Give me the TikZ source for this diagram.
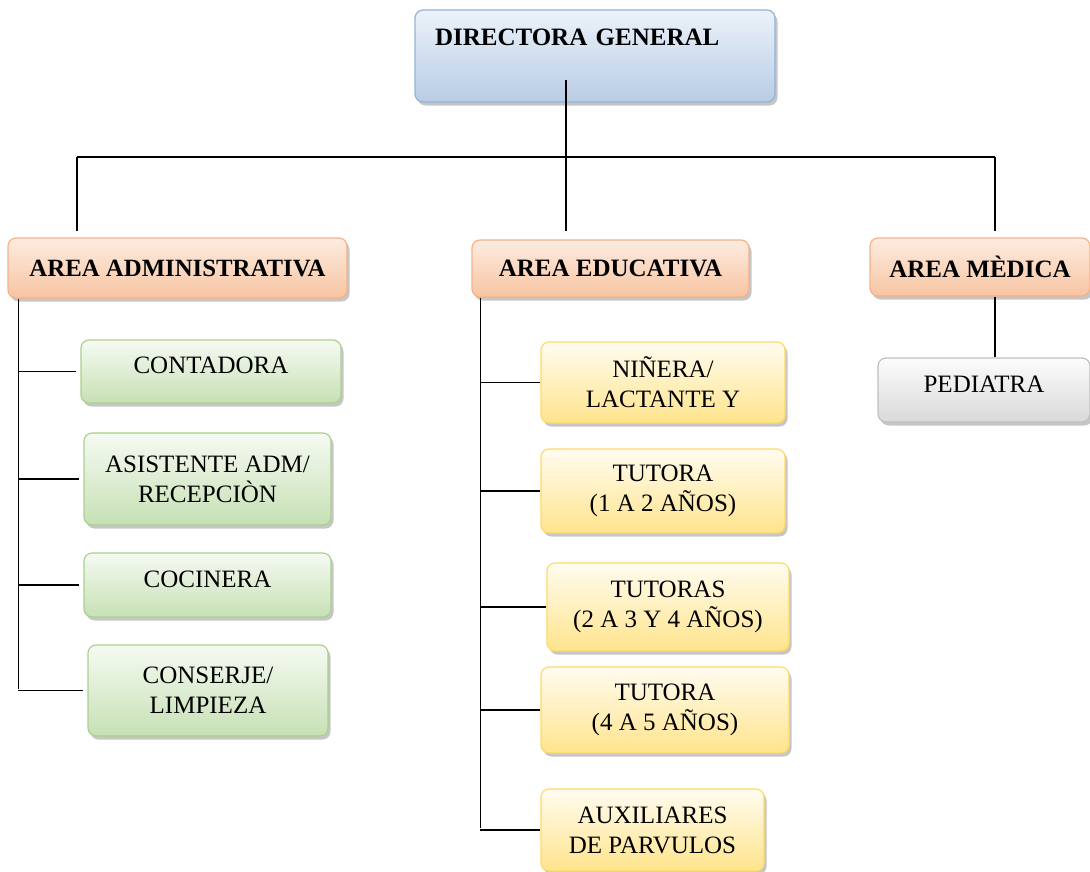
\documentclass[tikz,border=0pt]{standalone}
\usepackage{fontspec}
\setmainfont{Liberation Serif}
\usepackage{tikz}
\usetikzlibrary{shadows,positioning,calc}
\definecolor{dirline}{RGB}{149,179,215}
\definecolor{dirtop}{RGB}{236,242,250}
\definecolor{dirbot}{RGB}{184,204,228}
\definecolor{arealine}{RGB}{245,178,135}
\definecolor{areatop}{RGB}{253,236,224}
\definecolor{areabot}{RGB}{247,196,162}
\definecolor{admline}{RGB}{169,209,142}
\definecolor{admtop}{RGB}{246,250,243}
\definecolor{admbot}{RGB}{198,224,180}
\definecolor{eduline}{RGB}{255,217,102}
\definecolor{edutop}{RGB}{255,252,240}
\definecolor{edubot}{RGB}{255,228,140}
\definecolor{medline}{RGB}{191,191,191}
\definecolor{medtop}{RGB}{252,252,252}
\definecolor{medbot}{RGB}{217,217,217}
\tikzstyle{box}=[draw,rounded corners=8pt,line width=1.2pt,align=center,inner sep=4pt,font=\fontsize{25}{30}\selectfont,drop shadow={shadow xshift=2.5pt,shadow yshift=-3.5pt,fill=black!50,opacity=0.45}]
\tikzstyle{dirbox}=[box,draw=dirline,top color=dirtop,bottom color=dirbot,font=\fontsize{25}{30}\selectfont\bfseries]
\tikzstyle{areabox}=[box,draw=arealine,top color=areatop,bottom color=areabot,font=\fontsize{25}{30}\selectfont\bfseries]
\tikzstyle{admbox}=[box,draw=admline,top color=admtop,bottom color=admbot]
\tikzstyle{edubox}=[box,draw=eduline,top color=edutop,bottom color=edubot]
\tikzstyle{medbox}=[box,draw=medline,top color=medtop,bottom color=medbot]
\tikzset{boxsize/.style 2 args={minimum width=#1pt,minimum height=#2pt},
  single/.style={text depth=12pt}}

\begin{document}
\begin{tikzpicture}[x=1pt,y=-1pt,conn/.style={draw,line width=1.2pt}]
\useasboundingbox (0,0) rectangle (1090,871);

\node [dirbox,text width=320pt,align=left,inner xsep=20pt,inner ysep=18pt,text height=17pt,text depth=39pt] (dir) at (595,56) {DIRECTORA GENERAL};

\node [areabox,boxsize={339}{60},font=\fontsize{24.8}{30}\selectfont\bfseries] (adm) at (177.5,268) {AREA ADMINISTRATIVA};
\node [areabox,boxsize={277}{57}] (edu) at (610.5,268.5) {AREA EDUCATIVA};
\node [areabox,boxsize={220}{58}] (med) at (980,267) {AREA MÈDICA};

\node [medbox,boxsize={212}{64},single] (ped) at (984,390) {PEDIATRA};

\node [admbox,boxsize={260}{63},single] (cont) at (211,371.5) {CONTADORA};
\node [admbox,boxsize={247}{92}] (asis) at (207.5,479) {ASISTENTE ADM/\\RECEPCIÒN};
\node [admbox,boxsize={247}{64},single] (coc) at (207.5,585) {COCINERA};
\node [admbox,boxsize={240}{91}] (cons) at (208,690.5) {CONSERJE/\\LIMPIEZA};

\node [edubox,boxsize={244}{81}] (nin) at (663,382.5) {NIÑERA/\\LACTANTE Y};
\node [edubox,boxsize={244}{84}] (tut1) at (663,491) {TUTORA\\(1 A 2 AÑOS)};
\node [edubox,boxsize={242}{88}] (tut2) at (668,607) {TUTORAS\\(2 A 3 Y 4 AÑOS)};
\node [edubox,boxsize={248}{86}] (tut3) at (665,710) {TUTORA\\(4 A 5 AÑOS)};
\node [edubox,boxsize={223}{82}] (aux) at (652.5,830) {AUXILIARES\\DE PARVULOS};

\coordinate (stem) at (566,80);
\coordinate (busL) at (77,157);
\coordinate (busR) at (995,157);
\coordinate (admL) at ([xshift=11pt]adm.south west);
\coordinate (eduL) at ([xshift=9pt]edu.south west);

\draw [conn] (stem) -- (stem |- busL);
\draw [conn] (busL) -- (busR);
\draw [conn] (busL) -- ([yshift=6pt]busL |- adm.north);
\draw [conn] (stem |- busL) -- ([yshift=8pt]stem |- edu.north);
\draw [conn] (busR) -- ([yshift=6pt]busR |- med.north);
\draw [conn] (busR |- med.south) -- (busR |- ped.north);

\draw [conn] (admL) -- ($(admL |- cons.west)+(0,-2)$);
\foreach \n in {cont,asis,coc,cons}
  \draw [conn] (admL |- \n.west) -- ([xshift=-4pt]\n.west);

\draw [conn] (eduL) -- ($(eduL |- aux.west)+(0,-2)$);
\foreach \n in {nin,tut1,tut2,tut3,aux}
  \draw [conn] (eduL |- \n.west) -- (\n.west);
\end{tikzpicture}
\end{document}
